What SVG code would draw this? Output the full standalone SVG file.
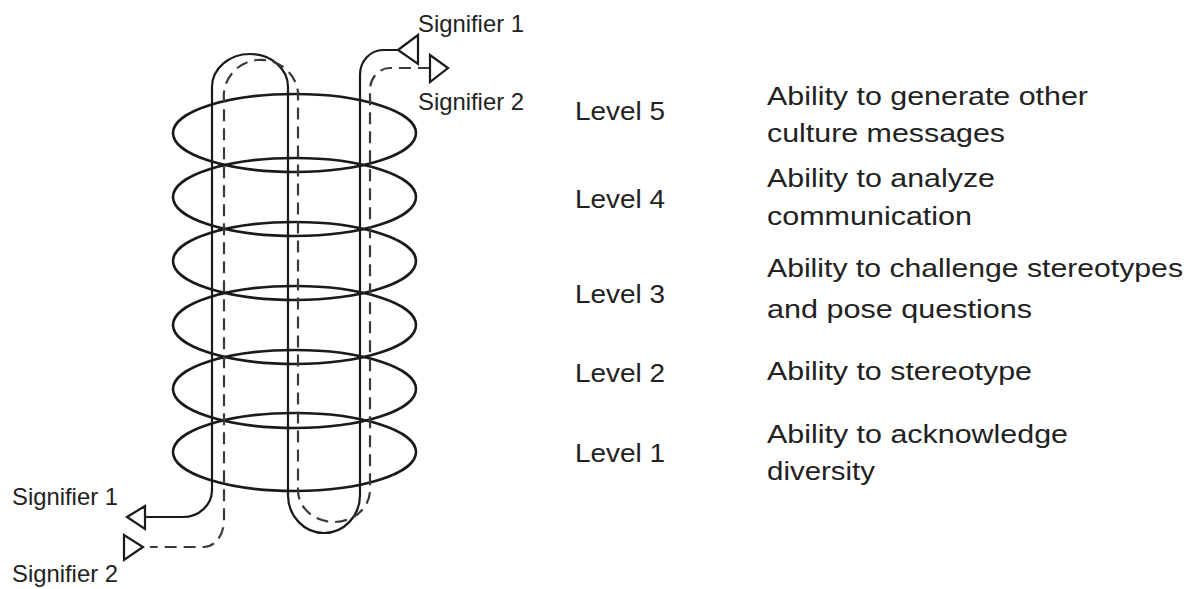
<svg xmlns="http://www.w3.org/2000/svg" width="1195" height="589" viewBox="0 0 1195 589">
<style>
.bg{fill:#fff}
.ring{fill:none;stroke:#1a1a1a;stroke-width:2.6}
.solid{fill:none;stroke:#1a1a1a;stroke-width:2.2}
.dash{fill:none;stroke:#3a3a3a;stroke-width:2.2;stroke-dasharray:12 7}
.tri{fill:#fff;stroke:#1a1a1a;stroke-width:2.2;stroke-linejoin:miter}
.t{font-family:"Liberation Sans",Arial,Helvetica,sans-serif;fill:#222}
.sig{font-size:24px}
.lvl{font-size:25px}
</style>
<rect class="bg" x="0" y="0" width="1195" height="589"/>
<g id="rings">
  <ellipse id="ring1" class="ring" cx="294.5" cy="452" rx="121.5" ry="39"/>
  <ellipse id="ring2" class="ring" cx="294.5" cy="389" rx="121.5" ry="39"/>
  <ellipse id="ring3" class="ring" cx="294.5" cy="325" rx="121.5" ry="39"/>
  <ellipse id="ring4" class="ring" cx="294.5" cy="261" rx="121.5" ry="39"/>
  <ellipse id="ring5" class="ring" cx="294.5" cy="197" rx="121.5" ry="39"/>
  <ellipse id="ring6" class="ring" cx="294.5" cy="133" rx="121.5" ry="39"/>
</g>
<g id="connectors">
  <path id="signifier1-path" class="solid" d="M398,50 H383 A23,25 0 0 0 360,75 V495 A36,38 0 0 1 288,495 V87 A38,33 0 0 0 212,87 V490 A29,27 0 0 1 183,517 H145"/>
  <path id="signifier2-path" class="dash" d="M430,68 H390 A20,22 0 0 0 370,90 V490 A36,32 0 0 1 298,490 V92 A37,36 0 0 0 224,100 V520 A20,27 0 0 1 204,547 H150"/>
</g>
<g id="sig-top-1">
  <polygon class="tri" points="398,50 418,35 418,64"/>
  <text class="t sig" x="418" y="32" textLength="106" lengthAdjust="spacingAndGlyphs">Signifier 1</text>
</g>
<g id="sig-top-2">
  <polygon class="tri" points="430,55 430,82 448,68"/>
  <text class="t sig" x="418" y="110" textLength="106" lengthAdjust="spacingAndGlyphs">Signifier 2</text>
</g>
<g id="sig-bottom-1">
  <polygon class="tri" points="127,517 145,506 145,529"/>
  <text class="t sig" x="12" y="505" textLength="106" lengthAdjust="spacingAndGlyphs">Signifier 1</text>
</g>
<g id="sig-bottom-2">
  <polygon class="tri" points="124,535 124,560 143,547"/>
  <text class="t sig" x="12" y="582" textLength="106" lengthAdjust="spacingAndGlyphs">Signifier 2</text>
</g>
<g id="level5">
  <text class="t lvl" x="575" y="120" textLength="90" lengthAdjust="spacingAndGlyphs">Level 5</text>
  <text class="t lvl" x="767" y="105" textLength="321" lengthAdjust="spacingAndGlyphs">Ability to generate other</text>
  <text class="t lvl" x="767" y="142" textLength="238" lengthAdjust="spacingAndGlyphs">culture messages</text>
</g>
<g id="level4">
  <text class="t lvl" x="575" y="208" textLength="90" lengthAdjust="spacingAndGlyphs">Level 4</text>
  <text class="t lvl" x="767" y="187" textLength="228" lengthAdjust="spacingAndGlyphs">Ability to analyze</text>
  <text class="t lvl" x="767" y="225" textLength="205" lengthAdjust="spacingAndGlyphs">communication</text>
</g>
<g id="level3">
  <text class="t lvl" x="575" y="303" textLength="90" lengthAdjust="spacingAndGlyphs">Level 3</text>
  <text class="t lvl" x="767" y="277" textLength="416" lengthAdjust="spacingAndGlyphs">Ability to challenge stereotypes</text>
  <text class="t lvl" x="767" y="318" textLength="265" lengthAdjust="spacingAndGlyphs">and pose questions</text>
</g>
<g id="level2">
  <text class="t lvl" x="575" y="382" textLength="90" lengthAdjust="spacingAndGlyphs">Level 2</text>
  <text class="t lvl" x="767" y="380" textLength="265" lengthAdjust="spacingAndGlyphs">Ability to stereotype</text>
</g>
<g id="level1">
  <text class="t lvl" x="575" y="462" textLength="90" lengthAdjust="spacingAndGlyphs">Level 1</text>
  <text class="t lvl" x="767" y="443" textLength="301" lengthAdjust="spacingAndGlyphs">Ability to acknowledge</text>
  <text class="t lvl" x="767" y="480" textLength="108" lengthAdjust="spacingAndGlyphs">diversity</text>
</g>
</svg>
